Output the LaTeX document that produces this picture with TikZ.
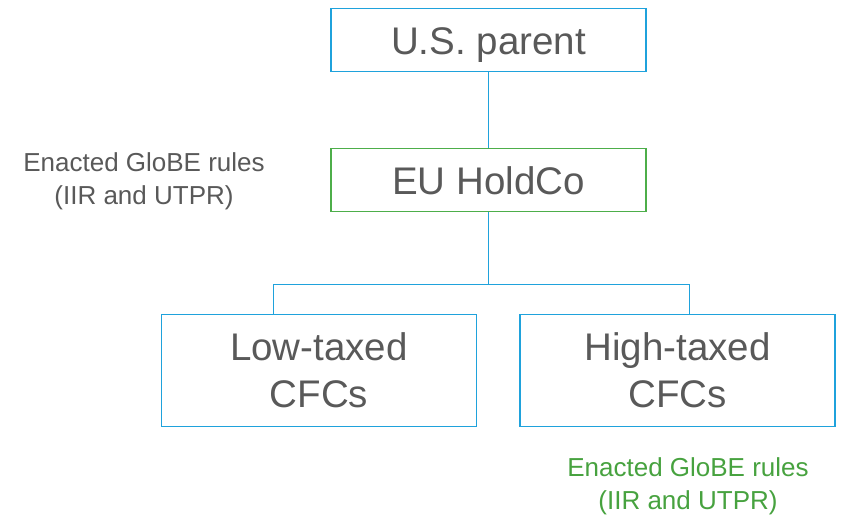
\documentclass[tikz,border=0pt]{standalone}
\usepackage{fontspec}
\setmainfont{Liberation Sans}
\definecolor{boxblue}{HTML}{1FA2DC}
\definecolor{boxgreen}{HTML}{4DAE4A}
\definecolor{txtgreen}{HTML}{47A23F}
\definecolor{txtgray}{HTML}{595959}
\begin{document}
\begin{tikzpicture}[x=1pt,y=-1pt,
  box/.style={draw=boxblue,line width=1.6pt,minimum width=315pt,inner sep=0pt,align=center,text=txtgray,font=\fontsize{38.5}{47}\selectfont},
  oneline/.style={minimum height=63pt,text height=28pt,text depth=0pt},
  conn/.style={draw=boxblue,line width=0.9pt},
  note/.style={align=center,font=\fontsize{26}{33}\selectfont}]
\useasboundingbox (0,0) rectangle (841,515);
\node[box,oneline] (us) at (488.5,40) {U.S. parent};
\node[box,oneline,draw=boxgreen] (eu) at (488.5,180) {EU HoldCo};
\node[box,minimum height=112pt] (low) at (319,370.5) {Low-taxed\\CFCs};
\node[box,minimum height=112pt] (high) at (677.5,370.5) {High-taxed\\CFCs};
\coordinate (j) at (488.5,284);
\coordinate (jl) at (273,284);
\coordinate (jr) at (689,284);
\draw[conn] (us.south) -- (eu.north);
\draw[conn] (eu.south) -- (j);
\draw[conn] (jl) -- (jr);
\draw[conn] (jl) -- (jl |- low.north);
\draw[conn] (jr) -- (jr |- high.north);
\node[note,text=txtgray] (n1) at (144,181) {Enacted GloBE rules\\(IIR and UTPR)};
\node[note,text=txtgreen] (n2) at (688,486) {Enacted GloBE rules\\(IIR and UTPR)};
\end{tikzpicture}
\end{document}
